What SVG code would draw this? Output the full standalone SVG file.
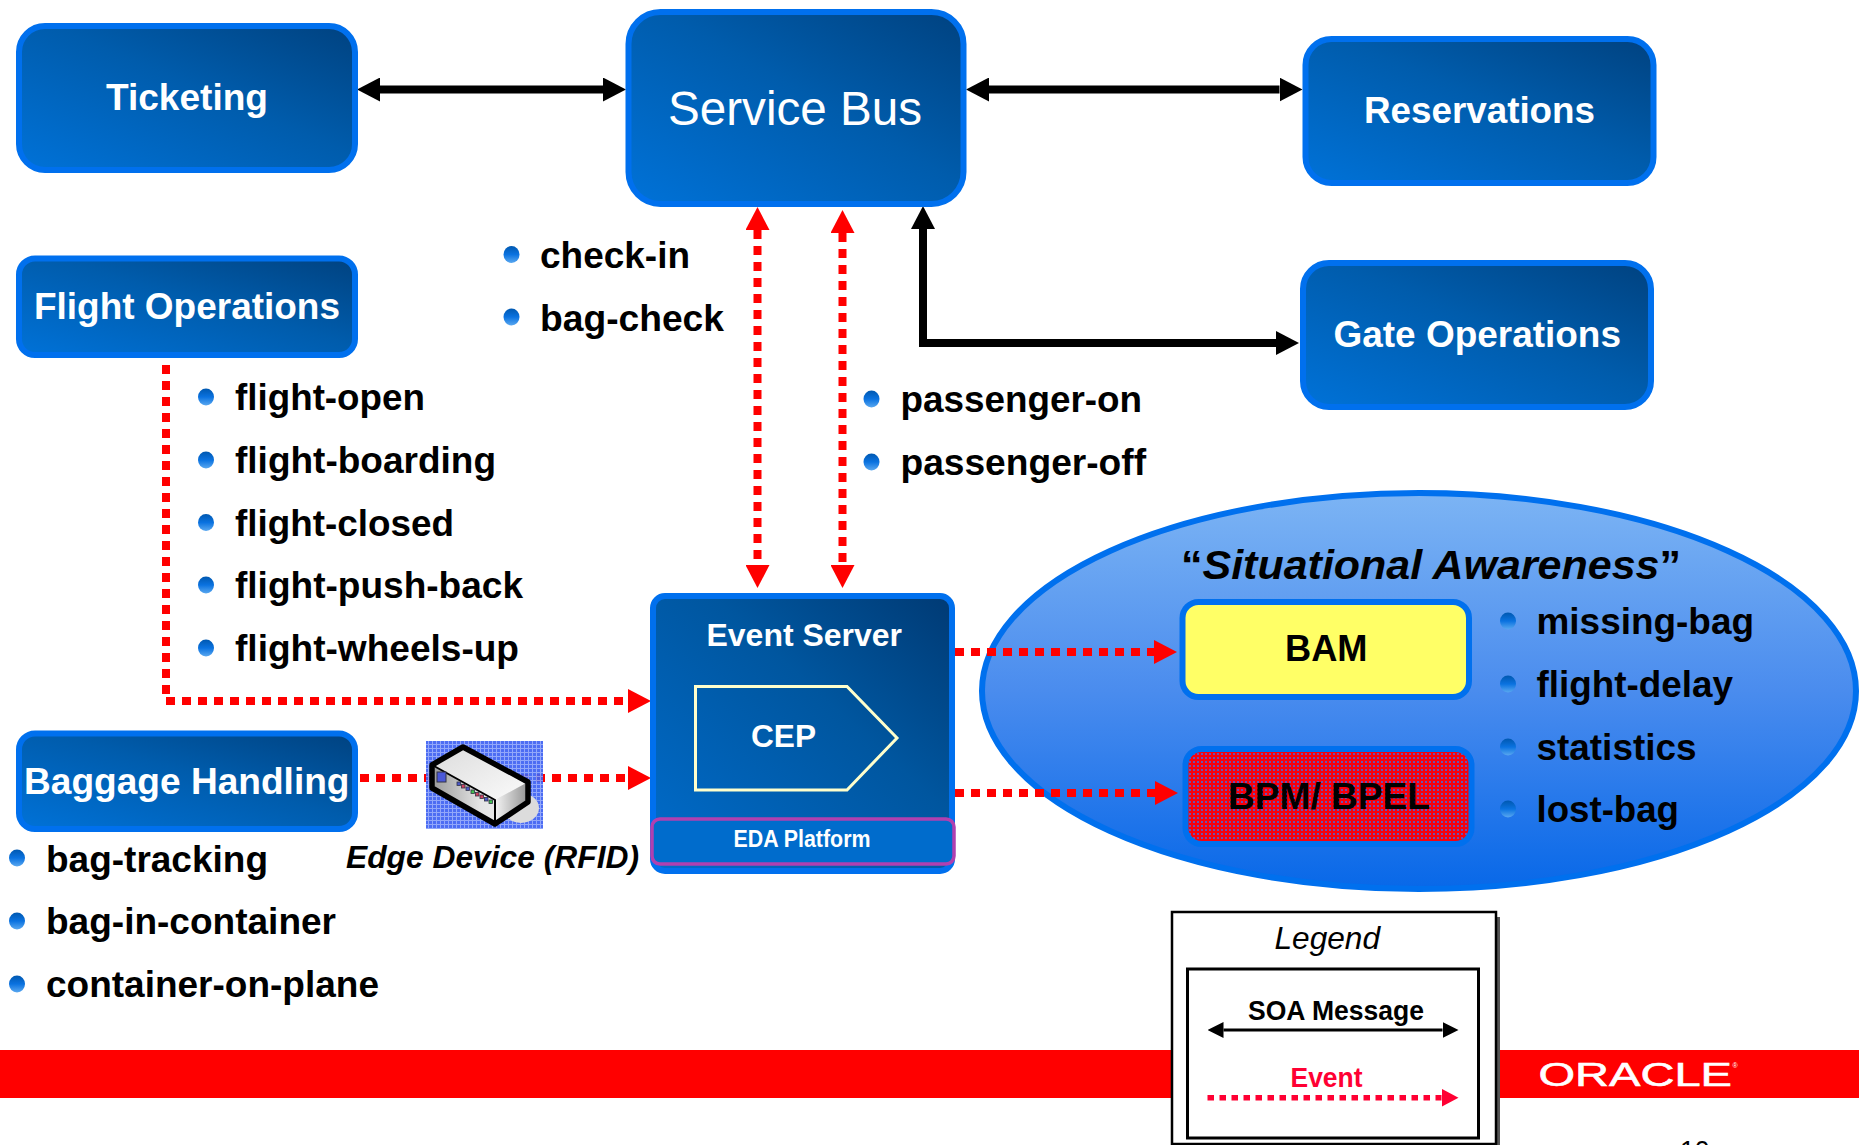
<svg xmlns="http://www.w3.org/2000/svg" xmlns:xlink="http://www.w3.org/1999/xlink" width="1868" height="1145" viewBox="0 0 1868 1145">
<style>
text{font-family:"Liberation Sans",Arial,sans-serif}
.box{stroke:#0070EE;stroke-width:6;fill:url(#boxGrad)}
.w{fill:#fff;font-weight:bold}
.k{fill:#000;font-weight:bold}
.li{fill:#000;font-weight:bold;font-size:37.5px}
.blk{fill:none;stroke:#000;stroke-width:8}
.red{fill:none;stroke:#f00;stroke-width:8;stroke-dasharray:9 7}
.port{stroke:#334;stroke-width:.8}
</style>
<defs>
<linearGradient id="boxGrad" x1="0" y1="1" x2="1" y2="0"><stop offset="0" stop-color="#0072D8"/><stop offset="0.55" stop-color="#005CAC"/><stop offset="1" stop-color="#004280"/></linearGradient>
<linearGradient id="esGrad" x1="0" y1="1" x2="1" y2="0"><stop offset="0" stop-color="#006CCC"/><stop offset="0.6" stop-color="#00569F"/><stop offset="1" stop-color="#003A74"/></linearGradient>
<linearGradient id="ellGrad" x1="0" y1="0" x2="0" y2="1"><stop offset="0" stop-color="#7CB4F4"/><stop offset="0.5" stop-color="#4A8CEE"/><stop offset="1" stop-color="#0868E8"/></linearGradient>
<linearGradient id="bulGrad" x1="0" y1="0" x2="0" y2="1"><stop offset="0" stop-color="#0058B0"/><stop offset="0.5" stop-color="#0A72E0"/><stop offset="1" stop-color="#5AA8F0"/></linearGradient>
<linearGradient id="devTop" x1="0" y1="0" x2="1" y2="1"><stop offset="0" stop-color="#DCDCDC"/><stop offset="1" stop-color="#FBFBFB"/></linearGradient>
<linearGradient id="devFront" x1="0" y1="0" x2="1" y2="0"><stop offset="0" stop-color="#9A9A9A"/><stop offset="0.5" stop-color="#E4E4E4"/><stop offset="1" stop-color="#F4F4F4"/></linearGradient>
<linearGradient id="devSide" x1="0" y1="0" x2="1" y2="0"><stop offset="0" stop-color="#F4F4F4"/><stop offset="1" stop-color="#929292"/></linearGradient>
<pattern id="grid" width="4" height="4" patternUnits="userSpaceOnUse"><rect width="4" height="4" fill="#3F62F2"/><path d="M0 .5H4M.5 0V4" stroke="#8AA0FA" stroke-width="1"/></pattern>
<pattern id="redDots" width="4" height="4" patternUnits="userSpaceOnUse"><rect width="4" height="4" fill="#F8000C"/><rect x="1" y="1" width="2" height="2" fill="#7050B0"/></pattern>
<marker id="hK" markerUnits="userSpaceOnUse" markerWidth="23" markerHeight="24" refX="0" refY="12" orient="auto-start-reverse"><path d="M0 0L23 12L0 24Z" fill="#000"/></marker>
<marker id="hR" markerUnits="userSpaceOnUse" markerWidth="23" markerHeight="24" refX="0" refY="12" orient="auto-start-reverse"><path d="M0 0L23 12L0 24Z" fill="#f00"/></marker>
<marker id="hK2" markerUnits="userSpaceOnUse" markerWidth="16" markerHeight="16" refX="0" refY="8" orient="auto-start-reverse"><path d="M0 0L16 8L0 16Z" fill="#000"/></marker>
<marker id="hR2" markerUnits="userSpaceOnUse" markerWidth="17" markerHeight="18" refX="0" refY="9" orient="auto"><path d="M0 0L17 9L0 18Z" fill="#FF0033"/></marker>
<ellipse id="bul" rx="8" ry="8.5" fill="url(#bulGrad)"/>
</defs>

<rect id="footer-band" x="0" y="1050" width="1859" height="48" fill="#f00"/>

<g id="situational-awareness">
<ellipse cx="1419" cy="691" rx="437" ry="198" fill="url(#ellGrad)" stroke="#0070EE" stroke-width="6"/>
<text x="1181" y="579" font-size="41" font-style="italic" class="k" textLength="500" lengthAdjust="spacingAndGlyphs"><tspan font-style="normal">“</tspan>Situational Awareness<tspan font-style="normal">”</tspan></text>
</g>

<g id="connectors">
<path class="blk" d="M380 89.5H603" marker-start="url(#hK)" marker-end="url(#hK)"/>
<path class="blk" d="M989 89.5H1279.500" marker-start="url(#hK)" marker-end="url(#hK)"/>
<path class="blk" d="M923 229V343H1276" marker-start="url(#hK)" marker-end="url(#hK)"/>
<path class="red" d="M757.500 230V565" marker-start="url(#hR)" marker-end="url(#hR)"/>
<path class="red" d="M842.500 233V565" marker-start="url(#hR)" marker-end="url(#hR)"/>
<path class="red" d="M166 365V701H628" marker-end="url(#hR)"/>
<path class="red" d="M360 778H628" marker-end="url(#hR)"/>
<path class="red" d="M955 652H1154" marker-end="url(#hR)"/>
<path class="red" d="M955 793H1155" marker-end="url(#hR)"/>
</g>

<g id="ticketing"><rect class="box" x="19" y="26" width="336" height="144" rx="26"/><text class="w" x="106" y="110" font-size="37" textLength="162" lengthAdjust="spacingAndGlyphs">Ticketing</text></g>
<g id="service-bus"><rect class="box" x="628.500" y="12" width="335" height="192" rx="32"/><text x="668" y="125" font-size="48" fill="#fff" textLength="254" lengthAdjust="spacingAndGlyphs">Service Bus</text></g>
<g id="reservations"><rect class="box" x="1305.500" y="39" width="348" height="144" rx="26"/><text class="w" x="1364" y="122.500" font-size="37" textLength="231" lengthAdjust="spacingAndGlyphs">Reservations</text></g>
<g id="gate-operations"><rect class="box" x="1303" y="263" width="348" height="144" rx="26"/><text class="w" x="1333.500" y="347" font-size="37" textLength="287.500" lengthAdjust="spacingAndGlyphs">Gate Operations</text></g>
<g id="flight-operations"><rect class="box" x="19" y="258.500" width="336" height="96.500" rx="16"/><text class="w" x="34" y="319" font-size="37" textLength="306" lengthAdjust="spacingAndGlyphs">Flight Operations</text></g>
<g id="baggage-handling"><rect class="box" x="19" y="733.500" width="336" height="95.500" rx="16"/><text class="w" x="24" y="794" font-size="37" textLength="325.500" lengthAdjust="spacingAndGlyphs">Baggage Handling</text></g>

<g id="edge-device">
<rect x="426" y="741" width="117" height="88" fill="url(#grid)" fill-opacity="0.93"/>
<ellipse cx="521" cy="808" rx="18" ry="15" fill="#DCDCDC"/>
<path d="M463 747L432 765V788L495 824L528 802V782Z" fill="url(#devFront)"/>
<path d="M463 747L433 766L495 800L528 782Z" fill="url(#devTop)"/>
<path d="M495 800L528 782V802L495 824Z" fill="url(#devSide)"/>
<path d="M463 747L432 765V788L495 824L528 802V782Z" fill="none" stroke="#000" stroke-width="5.500" stroke-linejoin="round"/>
<path d="M434 766L495 800V824" fill="none" stroke="#000" stroke-width="2"/>
<rect x="437" y="772" width="9" height="10" fill="#4A58D8" stroke="#334"/>
<rect class="port" x="457" y="782" width="3.500" height="3.500" fill="#4A58C8"/>
<rect class="port" x="461.500" y="784.500" width="3.500" height="3.500" fill="#D04060"/>
<rect class="port" x="466" y="787" width="3.500" height="3.500" fill="#4A58C8"/>
<rect class="port" x="471" y="790" width="3.500" height="3.500" fill="#40C050"/>
<rect class="port" x="475.500" y="792.500" width="3.500" height="3.500" fill="#D04060"/>
<rect class="port" x="480" y="795" width="3.500" height="3.500" fill="#D04060"/>
<rect class="port" x="484.500" y="797.500" width="3.500" height="3.500" fill="#4A58C8"/>
<rect class="port" x="489" y="800" width="3.500" height="3.500" fill="#40C050"/>
<text class="k" x="346" y="868" font-size="32" font-style="italic" textLength="293" lengthAdjust="spacingAndGlyphs">Edge Device (RFID)</text>
</g>

<g id="event-server">
<rect x="653" y="596" width="299" height="275" rx="12" fill="url(#esGrad)" stroke="#0070EE" stroke-width="6"/>
<text class="w" x="706.500" y="646" font-size="32" textLength="195.500" lengthAdjust="spacingAndGlyphs">Event Server</text>
<path d="M695.500 686.500H847L897 738L847 790H695.500Z" fill="none" stroke="#FFFFCC" stroke-width="3"/>
<text class="w" x="751" y="746.500" font-size="32" font-weight="normal" textLength="65" lengthAdjust="spacingAndGlyphs">CEP</text>
<rect x="652" y="819" width="302" height="45" rx="8" fill="#006CCC" stroke="#B040B0" stroke-width="3.500"/>
<text class="w" x="733.500" y="846.500" font-size="23" textLength="137" lengthAdjust="spacingAndGlyphs">EDA Platform</text>
</g>

<g id="bam"><rect x="1182.500" y="602" width="286.500" height="95" rx="16" fill="#FFFF66" stroke="#0070EE" stroke-width="6"/><text class="k" x="1285" y="661" font-size="37" textLength="82.500" lengthAdjust="spacingAndGlyphs">BAM</text></g>
<g id="bpm-bpel"><rect x="1185.500" y="749" width="286" height="95" rx="16" fill="url(#redDots)" stroke="#0070EE" stroke-width="6"/><text class="k" x="1228" y="809" font-size="37" textLength="202" lengthAdjust="spacingAndGlyphs">BPM/ BPEL</text></g>

<g id="list-service-bus">
<use href="#bul" x="511.500" y="254.500"/><text class="li" x="540" y="268" textLength="150" lengthAdjust="spacingAndGlyphs">check-in</text>
<use href="#bul" x="511.500" y="317"/><text class="li" x="540" y="331" textLength="184" lengthAdjust="spacingAndGlyphs">bag-check</text>
</g>
<g id="list-flight">
<use href="#bul" x="206" y="397"/><text class="li" x="235" y="410" textLength="190" lengthAdjust="spacingAndGlyphs">flight-open</text>
<use href="#bul" x="206" y="460"/><text class="li" x="235" y="473" textLength="261" lengthAdjust="spacingAndGlyphs">flight-boarding</text>
<use href="#bul" x="206" y="522.500"/><text class="li" x="235" y="536" textLength="219" lengthAdjust="spacingAndGlyphs">flight-closed</text>
<use href="#bul" x="206" y="585"/><text class="li" x="235" y="598" textLength="288" lengthAdjust="spacingAndGlyphs">flight-push-back</text>
<use href="#bul" x="206" y="648"/><text class="li" x="235" y="661" textLength="284" lengthAdjust="spacingAndGlyphs">flight-wheels-up</text>
</g>
<g id="list-passenger">
<use href="#bul" x="871.500" y="399"/><text class="li" x="900.500" y="412" textLength="241.500" lengthAdjust="spacingAndGlyphs">passenger-on</text>
<use href="#bul" x="871.500" y="462"/><text class="li" x="900.500" y="475" textLength="245.500" lengthAdjust="spacingAndGlyphs">passenger-off</text>
</g>
<g id="list-baggage">
<use href="#bul" x="17" y="858"/><text class="li" x="46" y="872" textLength="222" lengthAdjust="spacingAndGlyphs">bag-tracking</text>
<use href="#bul" x="17" y="921"/><text class="li" x="46" y="934" textLength="290" lengthAdjust="spacingAndGlyphs">bag-in-container</text>
<use href="#bul" x="17" y="984"/><text class="li" x="46" y="997" textLength="333" lengthAdjust="spacingAndGlyphs">container-on-plane</text>
</g>
<g id="list-awareness">
<use href="#bul" x="1508" y="621"/><text class="li" x="1536.500" y="634" textLength="217.500" lengthAdjust="spacingAndGlyphs">missing-bag</text>
<use href="#bul" x="1508" y="684"/><text class="li" x="1536.500" y="697" textLength="196.500" lengthAdjust="spacingAndGlyphs">flight-delay</text>
<use href="#bul" x="1508" y="747"/><text class="li" x="1536.500" y="760" textLength="160" lengthAdjust="spacingAndGlyphs">statistics</text>
<use href="#bul" x="1508" y="809"/><text class="li" x="1536.500" y="822" textLength="142.500" lengthAdjust="spacingAndGlyphs">lost-bag</text>
</g>

<g id="legend">
<rect x="1175" y="917" width="325" height="234" fill="#555"/>
<rect x="1172" y="912" width="324" height="232" fill="#fff" stroke="#000" stroke-width="2.500"/>
<rect x="1187.500" y="969" width="291" height="169" fill="#fff" stroke="#000" stroke-width="3"/>
<text x="1274.500" y="949" font-size="32" font-style="italic" fill="#000" textLength="105.500" lengthAdjust="spacingAndGlyphs">Legend</text>
<text class="k" x="1248" y="1020" font-size="27" textLength="176" lengthAdjust="spacingAndGlyphs">SOA Message</text>
<path d="M1223.500 1030H1442.500" stroke="#000" stroke-width="3" marker-start="url(#hK2)" marker-end="url(#hK2)"/>
<text x="1290.500" y="1086.500" font-size="27" font-weight="bold" fill="#FF0033" textLength="72" lengthAdjust="spacingAndGlyphs">Event</text>
<path d="M1207.500 1097.700H1441.500" stroke="#FF0033" stroke-width="5.500" stroke-dasharray="6.500 5.500" marker-end="url(#hR2)"/>
</g>

<g id="oracle-logo">
<text x="1538.500" y="1086" font-size="33.500" fill="#fff" stroke="#fff" stroke-width="0.600" textLength="193.500" lengthAdjust="spacingAndGlyphs">ORACLE</text>
<text x="1732.500" y="1068" font-size="7" fill="#fff">®</text>
</g>
<text id="page-number" x="1680" y="1160" font-size="28" fill="#000" textLength="29.500" lengthAdjust="spacingAndGlyphs">10</text>
</svg>
